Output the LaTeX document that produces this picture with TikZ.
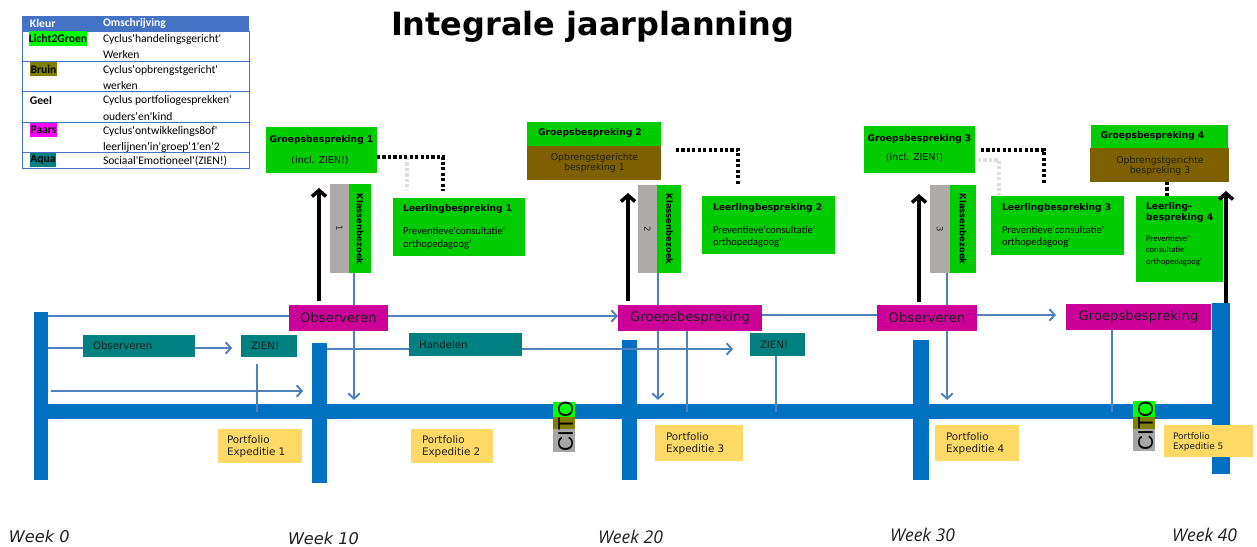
\documentclass[tikz,border=0pt]{standalone}
\usepackage{fontspec}
\setmainfont{DejaVu Sans}
\newfontfamily\cbfont{Carlito}
\newfontfamily\libfont{Liberation Sans}
\newfontfamily\osfont{Open Sans}
\usetikzlibrary{arrows.meta}
\definecolor{boxgreen}{HTML}{00CC00}
\definecolor{litegreen}{HTML}{00FF00}
\definecolor{brownbox}{HTML}{7F6000}
\definecolor{olivec}{HTML}{808000}
\definecolor{magbox}{HTML}{CC0099}
\definecolor{paars}{HTML}{FF00FF}
\definecolor{tealc}{HTML}{008080}
\definecolor{kbgray}{HTML}{AEAAAA}
\definecolor{barblue}{HTML}{0070C0}
\definecolor{lineblue}{HTML}{4F81BD}
\definecolor{portyel}{HTML}{FFD966}
\definecolor{citogray}{HTML}{A6A6A6}
\definecolor{hdrblue}{HTML}{4472C4}
\definecolor{faint}{HTML}{DDDDDD}
\definecolor{txtdark}{HTML}{1F1F1F}
\newcommand\fsz[2]{\fontsize{#1}{#2}\selectfont}
\pgfdeclarelayer{barlayer}
\pgfdeclarelayer{linelayer}
\pgfsetlayers{barlayer,linelayer,main}
\tikzset{
  pxbox/.style n args={4}{rectangle, inner sep=0pt, outer sep=0pt, anchor=center,
    minimum width={(#3-#1)*0.02cm}, minimum height={(#4-#2)*0.02cm},
    at={({(#1+#3)/2},{(#2+#4)/2})}},
  lbl/.style={inner sep=0pt, outer sep=0pt},
  lleft/.style={lbl, anchor=west},
  gbf/.style={font=\bfseries\fsz{5.2}{6.2}},
  inclf/.style={font=\fsz{5.4}{6.4}},
  opbf/.style={font=\fsz{5.3}{6.4}, text=txtdark},
  lgf/.style={font=\cbfont\fsz{6.6}{8}},
  lgb/.style={font=\cbfont\bfseries\fsz{6.6}{8}},
  prevf/.style={font=\cbfont\fsz{6}{7.2}},
  prevs/.style={font=\cbfont\fsz{4.9}{6}},
  magf/.style={font=\fsz{7.5}{8.8}, text=txtdark},
  tealf/.style={font=\fsz{5.8}{7}, text=txtdark},
  portf/.style={font=\fsz{5.9}{7}, text=txtdark},
  portsf/.style={font=\fsz{5.1}{6}, text=txtdark},
  kbf/.style={font=\bfseries\fsz{4.8}{6}, rotate=-90},
  kbn/.style={font=\fsz{4.8}{6}, rotate=-90, text=txtdark},
  citof/.style={font=\libfont\fsz{12}{14}, rotate=90},
  weekf/.style={lbl, anchor=base west, font=\itshape\fsz{9.2}{11}, text=txtdark},
  weeko/.style={lbl, anchor=base west, font=\osfont\itshape\fsz{10}{12}, text=txtdark},
  bline/.style={draw=lineblue, line width=1.1pt},
  vline/.style={draw=lineblue, line width=0.8pt},
  barrow/.style={bline, -{Straight Barb[length=3pt,width=6.5pt,line width=1.1pt]}},
  karrow/.style={line width=2pt, -{Straight Barb[length=3.5pt,width=8pt,line width=2pt]}},
  kdots/.style={line width=1.8pt, dash pattern=on 1.8pt off 1.3pt},
  fdots/.style={draw=faint, line width=1.8pt, dash pattern=on 1.8pt off 1.3pt},
  bar/.style={fill=barblue},
  lgline/.style={draw=hdrblue, line width=0.5pt},
}
\begin{document}
\begin{tikzpicture}[x=0.02cm, y=-0.02cm]
\useasboundingbox (0,0) rectangle (1257,547);

% ---------- title ----------
\node[lbl, anchor=base west, font=\bfseries\fsz{18.2}{20}] (title) at (391,36) {Integrale jaarplanning};

% ---------- legend ----------
\node[pxbox={22}{16}{249}{31}, fill=hdrblue] (lghead) {};
\node[lleft, lgb, text=white] (lgk) at (30,23.5) {Kleur};
\node[lleft, lgb, text=white] (lgo) at (103,23.5) {Omschrijving};
\draw[lgline] (lghead.south west) rectangle (249,168);
\draw[lgline] (22,61) -- (249,61);
\draw[lgline] (22,91) -- (249,91);
\draw[lgline] (22,122) -- (249,122);
\draw[lgline] (22,152) -- (249,152);
\node[pxbox={29}{31}{87}{46}, fill=litegreen, lgb] (lgc1) {Licht2Groen};
\node[pxbox={30}{62}{57}{76}, fill=olivec, lgb] (lgc2) {Bruin};
\node[lleft, lgb] (lgc3) at (30,100) {Geel};
\node[pxbox={30}{123}{57}{137}, fill=paars, lgb] (lgc4) {Paars};
\node[pxbox={30}{153}{56}{167}, fill=tealc, lgb] (lgc5) {Aqua};
\node[lleft, lgf] (lgd1a) at (103,39) {Cyclus'handelingsgericht'};
\node[lleft, lgf] (lgd1b) at (103,55) {Werken};
\node[lleft, lgf] (lgd2a) at (103,70) {Cyclus'opbrengstgericht'};
\node[lleft, lgf] (lgd2b) at (103,86) {werken};
\node[lleft, lgf] (lgd3a) at (103,100) {Cyclus portfoliogesprekken'};
\node[lleft, lgf] (lgd3b) at (103,117) {ouders'en'kind};
\node[lleft, lgf] (lgd4a) at (103,131) {Cyclus'ontwikkelings8of'};
\node[lleft, lgf] (lgd4b) at (103,147) {leerlijnen'in'groep'1'en'2};
\node[lleft, lgf] (lgd5a) at (103,161) {Sociaal'Emotioneel'(ZIEN!)};

% ---------- green top boxes ----------
\node[pxbox={266}{127}{377}{173}, fill=boxgreen] (gb1) {};
\node[lbl, gbf] (gb1t) at (321.5,140) {Groepsbespreking 1};
\node[lbl, inclf] (gb1s) at (320,161) {(incl. ZIEN!)};

\node[pxbox={527}{122}{661}{146}, fill=boxgreen] (gb2) {};
\node[pxbox={527}{146}{661}{180}, fill=brownbox] (gb2b) {};
\node[lbl, gbf] (gb2t) at (590,133) {Groepsbespreking 2};
\node[lbl, opbf] (gb2s1) at (594.5,158) {Opbrengstgerichte};
\node[lbl, opbf] (gb2s2) at (594.5,168) {bespreking 1};

\node[pxbox={864}{126}{975}{173}, fill=boxgreen] (gb3) {};
\node[lbl, gbf] (gb3t) at (919.5,139) {Groepsbespreking 3};
\node[lbl, inclf] (gb3s) at (914.5,158) {(incl. ZIEN!)};

\node[pxbox={1091}{125}{1228}{148}, fill=boxgreen] (gb4) {};
\node[pxbox={1090}{148}{1229}{182}, fill=brownbox] (gb4b) {};
\node[lbl, gbf] (gb4t) at (1152.5,136) {Groepsbespreking 4};
\node[lbl, opbf] (gb4s1) at (1160,161) {Opbrengstgerichte};
\node[lbl, opbf] (gb4s2) at (1160,171) {bespreking 3};

% ---------- leerlingbespreking boxes ----------
\node[pxbox={393}{198}{525}{256}, fill=boxgreen] (lb1) {};
\node[lleft, gbf] (lb1t) at (403,209) {Leerlingbespreking 1};
\node[lleft, prevf] (lb1a) at (403,231) {Preventieve'consultatie'};
\node[lleft, prevf] (lb1b) at (403,245) {orthopedagoog'};

\node[pxbox={702}{196}{835}{254}, fill=boxgreen] (lb2) {};
\node[lleft, gbf] (lb2t) at (713,208) {Leerlingbespreking 2};
\node[lleft, prevf] (lb2a) at (713,230) {Preventieve'consultatie'};
\node[lleft, prevf] (lb2b) at (713,243) {orthopedagoog'};

\node[pxbox={991}{196}{1124}{255}, fill=boxgreen] (lb3) {};
\node[lleft, gbf] (lb3t) at (1002,208) {Leerlingbespreking 3};
\node[lleft, prevf] (lb3a) at (1002,230) {Preventieve'consultatie'};
\node[lleft, prevf] (lb3b) at (1002,243) {orthopedagoog'};

\node[pxbox={1136}{196}{1223}{282}, fill=boxgreen] (lb4) {};
\node[lleft, gbf] (lb4t1) at (1146,207) {Leerling-};
\node[lleft, gbf] (lb4t2) at (1146,218) {bespreking 4};
\node[lleft, prevs] (lb4a) at (1146,239) {Preventieve'};
\node[lleft, prevs] (lb4b) at (1146,250) {consultatie'};
\node[lleft, prevs] (lb4c) at (1146,262) {orthopedagoog'};

% ---------- klassenbezoek ----------
\node[pxbox={330}{184}{349}{273}, fill=kbgray] (kb1g) {};
\node[pxbox={349}{184}{371}{273}, fill=boxgreen] (kb1) {};
\node[lbl, kbf] (kb1t) at (360,229) {Klassenbezoek};
\node[lbl, kbn] (kb1n) at (339.5,228) {1};

\node[pxbox={638}{185}{657}{273}, fill=kbgray] (kb2g) {};
\node[pxbox={657}{185}{681}{273}, fill=boxgreen] (kb2) {};
\node[lbl, kbf] (kb2t) at (669.5,229) {Klassenbezoek};
\node[lbl, kbn] (kb2n) at (647.5,229) {2};

\node[pxbox={930}{185}{950}{273}, fill=kbgray] (kb3g) {};
\node[pxbox={950}{185}{976}{273}, fill=boxgreen] (kb3) {};
\node[lbl, kbf] (kb3t) at (963,229) {Klassenbezoek};
\node[lbl, kbn] (kb3n) at (940,229) {3};

% ---------- magenta boxes ----------
\node[pxbox={289}{305}{388}{331}, fill=magbox, magf] (obs1) {Observeren};
\node[pxbox={618}{305}{762}{331}, fill=magbox, magf] (gbm1) {Groepsbespreking};
\node[pxbox={877}{305}{977}{331}, fill=magbox, magf] (obs2) {Observeren};
\node[pxbox={1066}{304}{1211}{330}, fill=magbox, magf] (gbm2) {Groepsbespreking};

% ---------- teal boxes ----------
\node[pxbox={83}{335}{195}{357}, fill=tealc] (tobs) {};
\node[lleft, tealf] (tobst) at (93,346) {Observeren};
\node[pxbox={241}{335}{297}{357}, fill=tealc] (zien1) {};
\node[lleft, tealf] (zien1t) at (251,346) {ZIEN!};
\node[pxbox={409}{333}{522}{356}, fill=tealc] (hand) {};
\node[lleft, tealf] (handt) at (419,344.5) {Handelen};
\node[pxbox={750}{333}{805}{356}, fill=tealc] (zien2) {};
\node[lleft, tealf] (zien2t) at (760,344.5) {ZIEN!};

% ---------- portfolio boxes ----------
\node[pxbox={218}{429}{302}{463}, fill=portyel] (p1) {};
\node[lleft, portf] (p1a) at (227,440) {Portfolio};
\node[lleft, portf] (p1b) at (227,453) {Expeditie 1};
\node[pxbox={411}{429}{493}{463}, fill=portyel] (p2) {};
\node[lleft, portf] (p2a) at (422,440) {Portfolio};
\node[lleft, portf] (p2b) at (422,453) {Expeditie 2};
\node[pxbox={655}{425}{743}{461}, fill=portyel] (p3) {};
\node[lleft, portf] (p3a) at (666,437) {Portfolio};
\node[lleft, portf] (p3b) at (666,450) {Expeditie 3};
\node[pxbox={935}{425}{1019}{461}, fill=portyel] (p4) {};
\node[lleft, portf] (p4a) at (946,437) {Portfolio};
\node[lleft, portf] (p4b) at (946,450) {Expeditie 4};
\node[pxbox={1164}{425}{1253}{457}, fill=portyel] (p5) {};
\node[lleft, portsf] (p5a) at (1173,436) {Portfolio};
\node[lleft, portsf] (p5b) at (1173,447) {Expeditie 5};

% ---------- bars ----------
\begin{pgfonlayer}{barlayer}
\node[pxbox={34}{312}{48}{480}, bar] (bar0) {};
\node[pxbox={312}{343}{327}{483}, bar] (bar1) {};
\node[pxbox={622}{340}{637}{480}, bar] (bar2) {};
\node[pxbox={913}{340}{929}{480}, bar] (bar3) {};
\node[pxbox={1212}{303}{1230}{474}, bar] (bar4) {};
\node[pxbox={34}{404}{1230}{419}, bar] (mainbar) {};
\end{pgfonlayer}

% ---------- CITO ----------
\node[pxbox={553}{402}{575}{417}, fill=litegreen] (c1g) {};
\node[pxbox={553}{417}{575}{429}, fill=olivec] (c1o) {};
\node[pxbox={553}{429}{575}{452}, fill=citogray] (c1y) {};
\node[lbl, citof] (c1t) at (565.5,426.5) {CITO};
\node[pxbox={1133}{401}{1155}{417}, fill=litegreen] (c2g) {};
\node[pxbox={1133}{417}{1155}{429}, fill=olivec] (c2o) {};
\node[pxbox={1133}{429}{1155}{451}, fill=citogray] (c2y) {};
\node[lbl, citof] (c2t) at (1145.5,426) {CITO};

% ---------- week labels ----------
\node[weekf] (w0) at (9,542) {Week 0};
\node[weekf] (w10) at (288,544) {Week 10};
\node[weeko] (w20) at (598,543.5) {Week 20};
\node[weeko] (w30) at (890,541) {Week 30};
\node[weeko] (w40) at (1172,541) {Week 40};

% ---------- connectors ----------
\begin{pgfonlayer}{linelayer}
% top row
\draw[bline] (bar0.east |- 0,316) -- (obs1.west |- 0,316);
\draw[barrow] (obs1.east |- 0,316) -- (gbm1.west |- 0,316);
\draw[bline] (gbm1.east |- 0,315) -- (obs2.west |- 0,315);
\draw[barrow, shorten >=5.7pt] (obs2.east |- 0,315) -- (gbm2.west |- 0,315);
% teal row
\draw[bline] (bar0.east |- 0,348) -- (tobs.west |- 0,348);
\draw[barrow, shorten >=5pt] (tobs.east |- 0,348) -- (zien1.west |- 0,348);
\draw[bline] (bar1.east |- 0,349) -- (hand.west |- 0,349);
\draw[barrow, shorten >=9.6pt] (hand.east |- 0,349) -- (zien2.west |- 0,349);
% third line
\coordinate (l3s) at (51,391);
\draw[barrow, shorten >=5pt] (l3s) -- (bar1.west |- l3s);
% verticals to the main bar
\draw[vline] (zien1.south -| 257,0) ++(0,7) -- (257,0 |- mainbar.center);
\draw[vline] (zien2.south -| 776,0) -- (776,0 |- mainbar.center);
\draw[vline] (gbm1.south -| 687,0) -- (687,0 |- mainbar.center);
\draw[vline] (gbm2.south -| 1112,0) -- (1112,0 |- mainbar.center);
% klassenbezoek lines
\draw[barrow, shorten >=2.3pt] (kb1.south -| 354,0) -- (354,0 |- mainbar.north);
\draw[barrow, shorten >=2.3pt] (kb2.south -| 658,0) -- (658,0 |- mainbar.north);
\draw[barrow, shorten >=2.3pt] (kb3g.south -| 947,0) -- (947,0 |- mainbar.north);
% faint dotted shadows
\draw[fdots] (407,157) -- (407,190);
\draw[fdots] (978,160) -- (999,160) -- (999,195);
\end{pgfonlayer}

% black dotted connectors
\coordinate (d1c) at (443,157);
\draw[kdots] (gb1.east |- d1c) -- (d1c) -- (d1c |- 0,191);
\coordinate (d2c) at (738,150);
\draw[kdots] ([xshift=8.5pt]gb2.east |- d2c) -- (d2c) -- (d2c |- 0,184);
\coordinate (d3c) at (1044,150);
\draw[kdots] ([xshift=3.4pt]gb3.east |- d3c) -- (d3c) -- (d3c |- 0,184);
\draw[kdots] (gb4b.south -| 1167,0) -- (lb4.north -| 1167,0);

% black arrows
\coordinate (a1e) at (319,188);
\draw[karrow] (a1e |- 0,301) -- (a1e);
\coordinate (a2e) at (628,193);
\draw[karrow] (a2e |- 0,301) -- (a2e);
\coordinate (a3e) at (919,194);
\draw[karrow] (a3e |- 0,302) -- (a3e);
\coordinate (a4e) at (1226,191);
\draw[karrow] (a4e |- bar4.north) -- (a4e);
\end{tikzpicture}
\end{document}
